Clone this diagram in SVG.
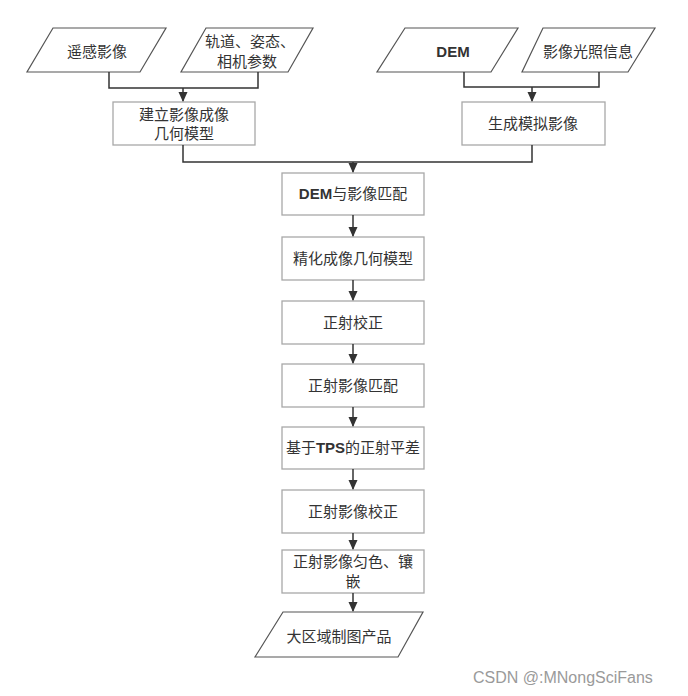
<svg xmlns="http://www.w3.org/2000/svg" width="688" height="696" viewBox="0 0 688 696">
<defs>
<marker id="ah" markerWidth="10" markerHeight="10" refX="9" refY="5" orient="auto" markerUnits="userSpaceOnUse">
<path d="M0,0.5 L10,5 L0,9.5 Z" fill="#333"/>
</marker>
<style>
.box{fill:#fff;stroke:#a8a8a8;stroke-width:1.3}
.para{fill:#fff;stroke:#555;stroke-width:1.2}
.t{font-family:"Noto Sans CJK SC","Noto Sans",sans-serif;font-size:15px;fill:#333;text-anchor:middle}
.b{font-family:"Liberation Sans","Noto Sans",sans-serif;font-weight:bold}
.c{fill:none;stroke:#333;stroke-width:1.5}
.wm{font-family:"Liberation Sans",Arial,sans-serif;font-size:16px;fill:#9a9a9a}
</style>
</defs>
<rect width="688" height="696" fill="#fff"/>
<g id="n-yaogan"><polygon class="para" points="53,28 166,28 140,72 27,72"/><text class="t" x="97" y="57">遥感影像</text></g>
<g id="n-guidao"><polygon class="para" points="206,28 313,28 288,72 181,72"/><text class="t" x="250" y="47">轨道、姿态、</text><text class="t" x="247" y="67">相机参数</text></g>
<g id="n-dem"><polygon class="para" points="405,28 518,28 491,72 377,72"/><text class="t b" x="453" y="57">DEM</text></g>
<g id="n-guangzhao"><polygon class="para" points="543,28 655,28 628,72 522,72"/><text class="t" x="588" y="57">影像光照信息</text></g>
<g id="n-jianli"><rect class="box" x="113" y="102" width="142" height="43"/><text class="t" x="184" y="120">建立影像成像</text><text class="t" x="184" y="139">几何模型</text></g>
<g id="n-shengcheng"><rect class="box" x="462" y="102" width="143" height="43"/><text class="t" x="533" y="129">生成模拟影像</text></g>
<g id="n-pipei"><rect class="box" x="282" y="173" width="142" height="42"/><text class="t" x="353" y="199"><tspan class="b">DEM</tspan>与影像匹配</text></g>
<g id="n-jinghua"><rect class="box" x="282" y="237" width="142" height="43"/><text class="t" x="353" y="264">精化成像几何模型</text></g>
<g id="n-jiaozheng"><rect class="box" x="282" y="301" width="142" height="43"/><text class="t" x="353" y="328">正射校正</text></g>
<g id="n-zspipei"><rect class="box" x="282" y="364" width="142" height="43"/><text class="t" x="353" y="391">正射影像匹配</text></g>
<g id="n-tps"><rect class="box" x="282" y="427" width="142" height="42"/><text class="t" x="353" y="453">基于<tspan class="b">TPS</tspan>的正射平差</text></g>
<g id="n-zsjz"><rect class="box" x="282" y="490" width="142" height="43"/><text class="t" x="353" y="517">正射影像校正</text></g>
<g id="n-yunse"><rect class="box" x="282" y="550" width="142" height="43"/><text class="t" x="353" y="567">正射影像匀色、镶</text><text class="t" x="353" y="587">嵌</text></g>
<g id="n-chanpin"><polygon class="para" points="283,612 423,612 398,657 255,657"/><text class="t" x="339" y="642">大区域制图产品</text></g>
<g id="connectors">
<path class="c" d="M109,72 V88 H258 V72"/>
<path class="c" d="M183,88 V101" marker-end="url(#ah)"/>
<path class="c" d="M464,72 V87 H599 V72"/>
<path class="c" d="M532,87 V101" marker-end="url(#ah)"/>
<path class="c" d="M183,145 V162 H532 V145"/>
<path class="c" d="M353,162 V172" marker-end="url(#ah)"/>
<path class="c" d="M353,215 V236" marker-end="url(#ah)"/>
<path class="c" d="M353,280 V300" marker-end="url(#ah)"/>
<path class="c" d="M353,344 V363" marker-end="url(#ah)"/>
<path class="c" d="M353,407 V426" marker-end="url(#ah)"/>
<path class="c" d="M353,469 V489" marker-end="url(#ah)"/>
<path class="c" d="M353,533 V549" marker-end="url(#ah)"/>
<path class="c" d="M353,593 V611" marker-end="url(#ah)"/>
</g>
<text class="wm" x="473" y="683">CSDN @:MNongSciFans</text>
</svg>
